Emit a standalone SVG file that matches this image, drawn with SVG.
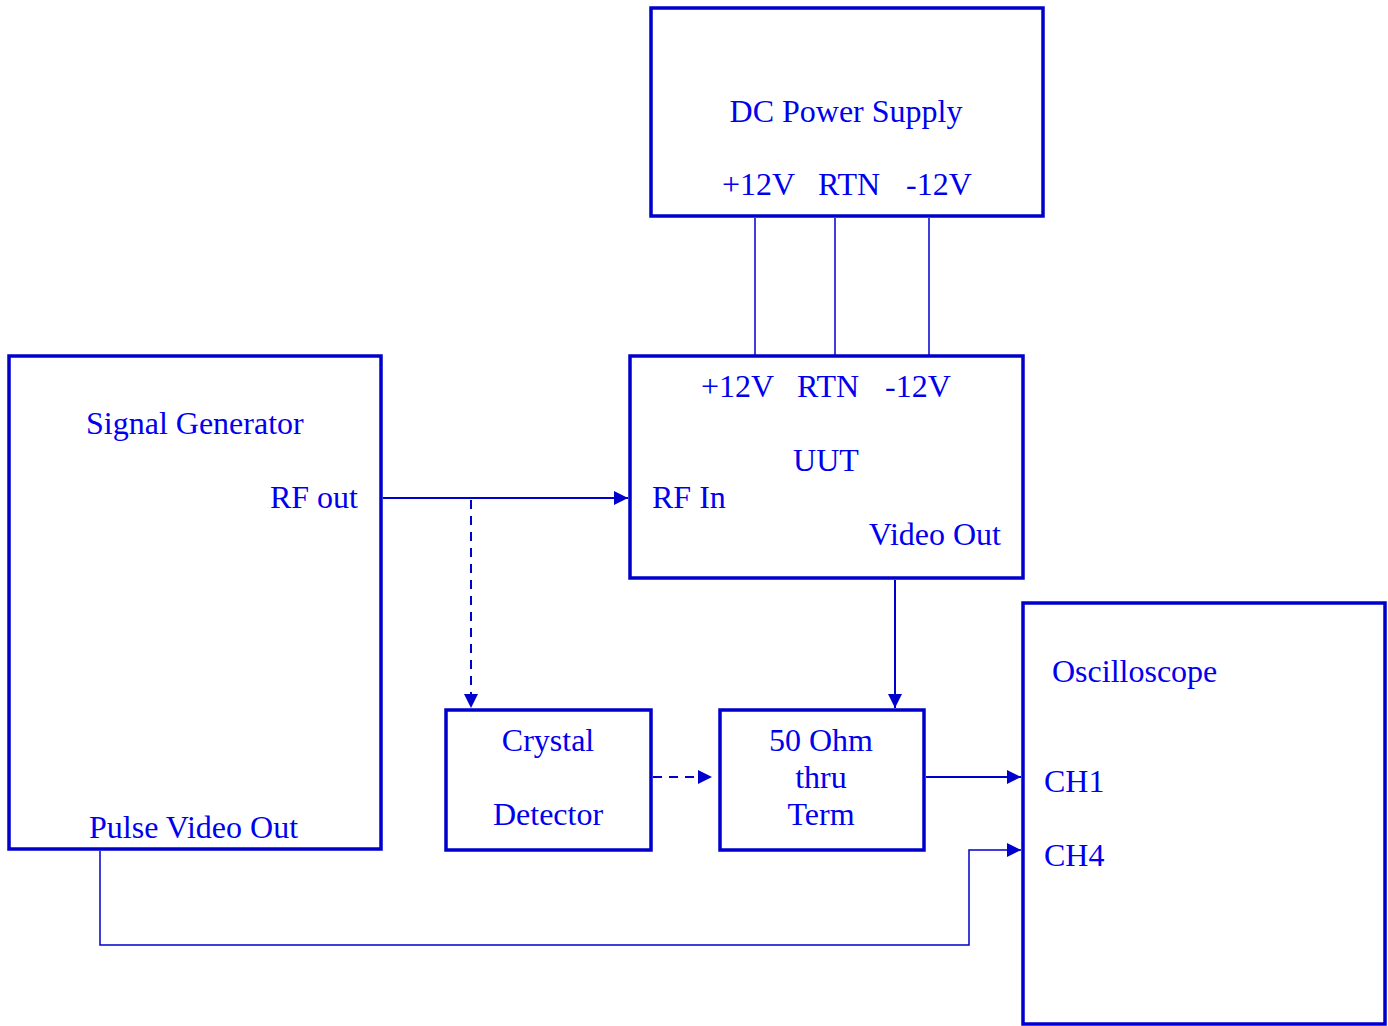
<svg xmlns="http://www.w3.org/2000/svg" width="1388" height="1026" viewBox="0 0 1388 1026">
<style>
.box{fill:none;stroke:#0000CC;stroke-width:3.5}
.t{font-family:"Liberation Serif","Times New Roman",serif;font-size:32px;fill:#0000EE}
.c{stroke:#0000CC;stroke-width:2;fill:none}
.p{stroke:#0000CC;stroke-width:1.5;fill:none}
.d{stroke:#0000CC;stroke-width:2;fill:none;stroke-dasharray:9,7}
.m{text-anchor:middle}
</style>
<defs>
<marker id="ah" viewBox="0 0 14 14" refX="14" refY="7" markerWidth="14" markerHeight="14" markerUnits="userSpaceOnUse" orient="auto">
<path d="M0,0 L14,7 L0,14 Z" fill="#0000CC"/>
</marker>
<clipPath id="pclip"><rect x="0" y="0" width="1388" height="839"/></clipPath>
</defs>
<g id="dc-power-supply">
<rect class="box" x="651" y="8" width="392" height="208"/>
<text class="t m" x="846" y="122">DC Power Supply</text>
<text class="t" x="722" y="195">+12V</text>
<text class="t" x="818" y="195">RTN</text>
<text class="t" x="906" y="195">-12V</text>
</g>
<g id="uut">
<rect class="box" x="630" y="356" width="393" height="222"/>
<text class="t" x="701" y="397">+12V</text>
<text class="t" x="797" y="397">RTN</text>
<text class="t" x="885" y="397">-12V</text>
<text class="t m" x="826" y="471">UUT</text>
<text class="t" x="652" y="508">RF In</text>
<text class="t" x="1001" y="545" text-anchor="end">Video Out</text>
</g>
<g id="signal-generator">
<rect class="box" x="9" y="356" width="372" height="493"/>
<text class="t" x="86" y="434">Signal Generator</text>
<text class="t" x="358" y="508" text-anchor="end">RF out</text>
<text class="t" x="89" y="838" clip-path="url(#pclip)">Pulse Video Out</text>
</g>
<g id="crystal-detector">
<rect class="box" x="446" y="710" width="205" height="140"/>
<text class="t m" x="548" y="751">Crystal</text>
<text class="t m" x="548" y="825">Detector</text>
</g>
<g id="term">
<rect class="box" x="720" y="710" width="204" height="140"/>
<text class="t m" x="821" y="751">50 Ohm</text>
<text class="t m" x="821" y="788">thru</text>
<text class="t m" x="821" y="825">Term</text>
</g>
<g id="oscilloscope">
<rect class="box" x="1023" y="603" width="362" height="421"/>
<text class="t" x="1052" y="682">Oscilloscope</text>
<text class="t" x="1044" y="792">CH1</text>
<text class="t" x="1044" y="866">CH4</text>
</g>
<g id="connectors">
<line class="p" x1="755" y1="218" x2="755" y2="355"/>
<line class="p" x1="835" y1="218" x2="835" y2="355"/>
<line class="p" x1="929" y1="218" x2="929" y2="355"/>
<line class="c" x1="383" y1="498" x2="628" y2="498" marker-end="url(#ah)"/>
<line class="d" x1="471" y1="500" x2="471" y2="708" marker-end="url(#ah)"/>
<line class="d" x1="653" y1="777" x2="712" y2="777" marker-end="url(#ah)"/>
<line class="c" x1="895" y1="580" x2="895" y2="708" marker-end="url(#ah)"/>
<line class="c" x1="926" y1="777" x2="1021" y2="777" marker-end="url(#ah)"/>
<polyline class="p" points="100,851 100,945 969,945 969,850 1021,850" marker-end="url(#ah)"/>
</g>
</svg>
